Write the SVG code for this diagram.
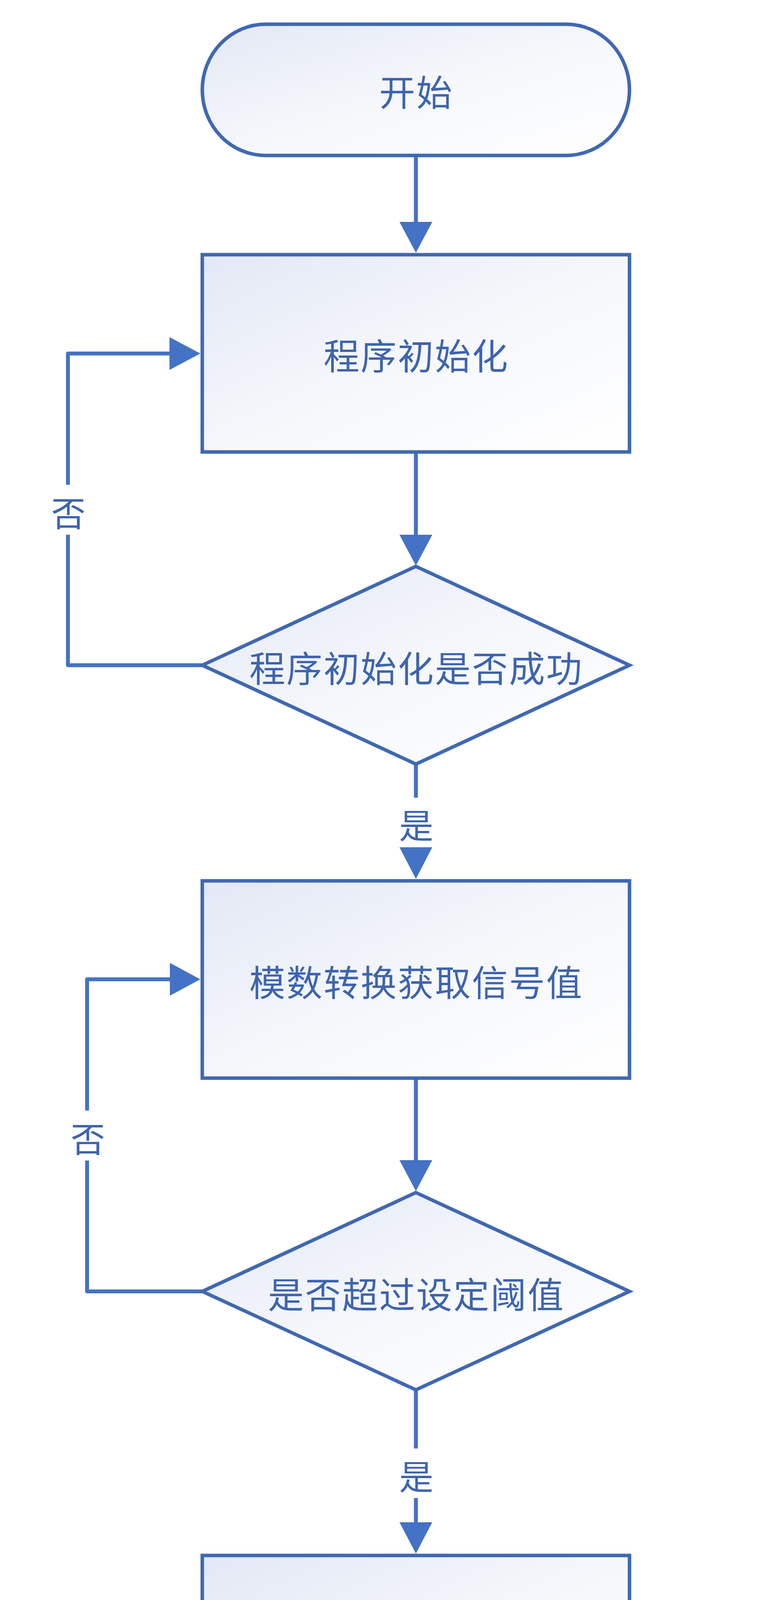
<svg xmlns="http://www.w3.org/2000/svg" width="2000" height="5271" viewBox="0 0 2000 5271">
  <defs>
    <linearGradient id="fillGrad" x1="0" y1="0" x2="1" y2="1">
      <stop offset="0" stop-color="#E3E8F5"/>
      <stop offset="0.5" stop-color="#F5F7FB"/>
      <stop offset="1" stop-color="#FFFFFF"/>
    </linearGradient>
    <style>
      .shape { fill: url(#fillGrad); stroke: #4068B2; stroke-width: 9; }
      .node-text { font-family: "Noto Sans CJK SC", "Noto Sans", sans-serif; font-size: 92px; fill: #3D64AE; text-anchor: middle; dominant-baseline: central; letter-spacing: 3px; }
      .label { font-family: "Noto Sans CJK SC", "Noto Sans", sans-serif; font-size: 88px; fill: #3D64AE; text-anchor: middle; dominant-baseline: central; }
      .line { fill: none; stroke: #4472C4; stroke-width: 10; stroke-linejoin: round; }
      .head { fill: #4472C4; stroke: none; }
    </style>
  </defs>
  <rect width="2000" height="5271" fill="#FFFFFF"/>

  <g id="connectors">
    <!-- start -> init -->
    <path class="line" d="M1065,398 V570"/>
    <polygon class="head" points="1023,568 1107,568 1065,647"/>
    <!-- init -> decision1 -->
    <path class="line" d="M1065,1157 V1371"/>
    <polygon class="head" points="1023,1369 1107,1369 1065,1448"/>
    <!-- decision1 no -> init -->
    <path class="line" d="M518,1703 H174 V1369 M174,1241 V905 H436"/>
    <polygon class="head" points="434,863 434,947 513,905"/>
    <text class="label" x="175" y="1308">否</text>
    <!-- decision1 yes -> adc -->
    <path class="line" d="M1065,1956 V2042"/>
    <text class="label" x="1066" y="2107">是</text>
    <polygon class="head" points="1023,2169 1107,2169 1065,2250"/>
    <!-- adc -> decision2 -->
    <path class="line" d="M1065,2760 V2972"/>
    <polygon class="head" points="1023,2970 1107,2970 1065,3049"/>
    <!-- decision2 no -> adc -->
    <path class="line" d="M518,3306 H223 V2971 M223,2843 V2507 H437"/>
    <polygon class="head" points="435,2465 435,2549 513,2507"/>
    <text class="label" x="225" y="2910">否</text>
    <!-- decision2 yes -> buzzer -->
    <path class="line" d="M1065,3557 V3708 M1065,3835 V3899"/>
    <text class="label" x="1066" y="3774">是</text>
    <polygon class="head" points="1023,3897 1107,3897 1065,3977"/>
    <!-- buzzer -> end -->
    <path class="line" d="M1065,4488 V4743"/>
    <polygon class="head" points="1023,4741 1107,4741 1065,4821"/>
  </g>

  <g id="node-start">
    <rect class="shape" x="518" y="62" width="1094" height="336" rx="162" ry="168"/>
    <text class="node-text" x="1066" y="230">开始</text>
  </g>

  <g id="node-init">
    <rect class="shape" x="518" y="652" width="1094" height="505"/>
    <text class="node-text" x="1066" y="905">程序初始化</text>
  </g>

  <g id="node-decision1">
    <polygon class="shape" points="1065,1450 1612,1703 1065,1956 518,1703"/>
    <text class="node-text" x="1066" y="1705">程序初始化是否成功</text>
  </g>

  <g id="node-adc">
    <rect class="shape" x="518" y="2255" width="1094" height="505"/>
    <text class="node-text" x="1066" y="2509">模数转换获取信号值</text>
  </g>

  <g id="node-decision2">
    <polygon class="shape" points="1065,3053 1612,3306 1065,3558 518,3306"/>
    <text class="node-text" x="1066" y="3308">是否超过设定阈值</text>
  </g>

  <g id="node-buzzer">
    <rect class="shape" x="518" y="3982" width="1094" height="506"/>
    <text class="node-text" x="1066" y="4236">蜂鸣器报警</text>
  </g>

  <g id="node-end">
    <rect class="shape" x="518" y="4826" width="1094" height="336" rx="162" ry="168"/>
    <text class="node-text" x="1066" y="4996">结束</text>
  </g>
</svg>
